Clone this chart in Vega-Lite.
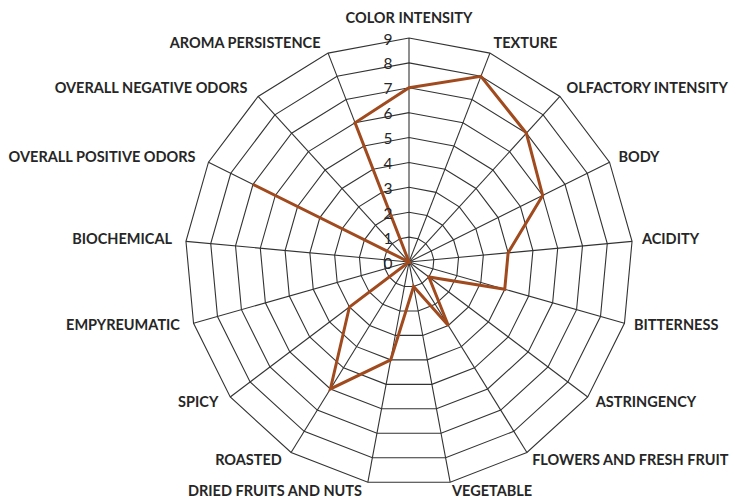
{
  "$schema": "https://vega.github.io/schema/vega-lite/v6.json",
  "autosize": "none",
  "width": 448,
  "height": 448,
  "padding": {"left": 185, "top": 38, "right": 99, "bottom": 13},
  "background": "white",
  "config": {"view": {"stroke": null}},
  "datasets": {
    "cats": [
      {"k": 0, "cat": "COLOR INTENSITY", "v": 7, "lv": [1,2,3,4,5,6,7,8,9]},
      {"k": 1, "cat": "TEXTURE", "v": 8, "lv": [1,2,3,4,5,6,7,8,9]},
      {"k": 2, "cat": "OLFACTORY INTENSITY", "v": 7, "lv": [1,2,3,4,5,6,7,8,9]},
      {"k": 3, "cat": "BODY", "v": 6, "lv": [1,2,3,4,5,6,7,8,9]},
      {"k": 4, "cat": "ACIDITY", "v": 4, "lv": [1,2,3,4,5,6,7,8,9]},
      {"k": 5, "cat": "BITTERNESS", "v": 4, "lv": [1,2,3,4,5,6,7,8,9]},
      {"k": 6, "cat": "ASTRINGENCY", "v": 1, "lv": [1,2,3,4,5,6,7,8,9]},
      {"k": 7, "cat": "FLOWERS AND FRESH FRUIT", "v": 3, "lv": [1,2,3,4,5,6,7,8,9]},
      {"k": 8, "cat": "VEGETABLE", "v": 1, "lv": [1,2,3,4,5,6,7,8,9]},
      {"k": 9, "cat": "DRIED FRUITS AND NUTS", "v": 4, "lv": [1,2,3,4,5,6,7,8,9]},
      {"k": 10, "cat": "ROASTED", "v": 6, "lv": [1,2,3,4,5,6,7,8,9]},
      {"k": 11, "cat": "SPICY", "v": 3, "lv": [1,2,3,4,5,6,7,8,9]},
      {"k": 12, "cat": "EMPYREUMATIC", "v": 0, "lv": [1,2,3,4,5,6,7,8,9]},
      {"k": 13, "cat": "BIOCHEMICAL", "v": 0, "lv": [1,2,3,4,5,6,7,8,9]},
      {"k": 14, "cat": "OVERALL POSITIVE ODORS", "v": 7, "lv": [1,2,3,4,5,6,7,8,9]},
      {"k": 15, "cat": "OVERALL NEGATIVE ODORS", "v": 0, "lv": [1,2,3,4,5,6,7,8,9]},
      {"k": 16, "cat": "AROMA PERSISTENCE", "v": 6, "lv": [1,2,3,4,5,6,7,8,9]}
    ],
    "ticks": [
      {"t": 0}, {"t": 1}, {"t": 2}, {"t": 3}, {"t": 4},
      {"t": 5}, {"t": 6}, {"t": 7}, {"t": 8}, {"t": 9}
    ]
  },
  "layer": [
    {
      "data": {"name": "cats"},
      "transform": [
        {"flatten": ["lv"]},
        {"calculate": "2*PI*datum.k/17", "as": "a"},
        {"calculate": "datum.lv*sin(datum.a)", "as": "gx"},
        {"calculate": "datum.lv*cos(datum.a)", "as": "gy"}
      ],
      "mark": {"type": "line", "interpolate": "linear-closed", "stroke": "#333333", "strokeWidth": 1.1},
      "encoding": {
        "x": {"field": "gx", "type": "quantitative", "scale": {"domain": [-9, 9], "nice": false, "zero": false}, "axis": null},
        "y": {"field": "gy", "type": "quantitative", "scale": {"domain": [-9, 9], "nice": false, "zero": false}, "axis": null},
        "detail": {"field": "lv", "type": "nominal"},
        "order": {"field": "k", "type": "quantitative"}
      }
    },
    {
      "data": {"name": "cats"},
      "transform": [
        {"calculate": "2*PI*datum.k/17", "as": "a"},
        {"calculate": "9*sin(datum.a)", "as": "sx"},
        {"calculate": "9*cos(datum.a)", "as": "sy"}
      ],
      "mark": {"type": "rule", "stroke": "#333333", "strokeWidth": 1.1},
      "encoding": {
        "x": {"field": "sx", "type": "quantitative", "scale": {"domain": [-9, 9], "nice": false, "zero": false}, "axis": null},
        "y": {"field": "sy", "type": "quantitative", "scale": {"domain": [-9, 9], "nice": false, "zero": false}, "axis": null},
        "x2": {"datum": 0},
        "y2": {"datum": 0}
      }
    },
    {
      "data": {"name": "cats"},
      "transform": [
        {"calculate": "2*PI*datum.k/17", "as": "a"},
        {"calculate": "datum.v*sin(datum.a)", "as": "px"},
        {"calculate": "datum.v*cos(datum.a)", "as": "py"}
      ],
      "mark": {"type": "line", "interpolate": "linear-closed", "stroke": "#a04a1e", "strokeWidth": 3, "strokeJoin": "miter"},
      "encoding": {
        "x": {"field": "px", "type": "quantitative", "scale": {"domain": [-9, 9], "nice": false, "zero": false}, "axis": null},
        "y": {"field": "py", "type": "quantitative", "scale": {"domain": [-9, 9], "nice": false, "zero": false}, "axis": null},
        "order": {"field": "k", "type": "quantitative"}
      }
    },
    {
      "data": {"name": "ticks"},
      "mark": {"type": "text", "align": "center", "baseline": "middle", "dx": -21, "dy": 1.5, "font": "Lato", "fontSize": 15.5, "fill": "#262626"},
      "encoding": {
        "x": {"datum": 0, "type": "quantitative", "scale": {"domain": [-9, 9], "nice": false, "zero": false}},
        "y": {"field": "t", "type": "quantitative", "scale": {"domain": [-9, 9], "nice": false, "zero": false}},
        "text": {"field": "t", "type": "quantitative"}
      }
    },
    {
      "data": {"name": "cats"},
      "transform": [
        {"filter": "datum.k >= 1 && datum.k <= 8"},
        {"calculate": "2*PI*datum.k/17", "as": "a"},
        {"calculate": "9.4*sin(datum.a)", "as": "lx"},
        {"calculate": "9.4*cos(datum.a)", "as": "ly"}
      ],
      "mark": {"type": "text", "align": "left", "baseline": "middle", "font": "Lato", "fontWeight": "bold", "fontSize": 14.5, "fill": "#262626"},
      "encoding": {
        "x": {"field": "lx", "type": "quantitative", "scale": {"domain": [-9, 9], "nice": false, "zero": false}},
        "y": {"field": "ly", "type": "quantitative", "scale": {"domain": [-9, 9], "nice": false, "zero": false}},
        "text": {"field": "cat", "type": "nominal"}
      }
    },
    {
      "data": {"name": "cats"},
      "transform": [
        {"filter": "datum.k >= 9"},
        {"calculate": "2*PI*datum.k/17", "as": "a"},
        {"calculate": "9.4*sin(datum.a)", "as": "lx"},
        {"calculate": "9.4*cos(datum.a)", "as": "ly"}
      ],
      "mark": {"type": "text", "align": "right", "baseline": "middle", "dx": -4, "font": "Lato", "fontWeight": "bold", "fontSize": 14.5, "fill": "#262626"},
      "encoding": {
        "x": {"field": "lx", "type": "quantitative", "scale": {"domain": [-9, 9], "nice": false, "zero": false}},
        "y": {"field": "ly", "type": "quantitative", "scale": {"domain": [-9, 9], "nice": false, "zero": false}},
        "text": {"field": "cat", "type": "nominal"}
      }
    },
    {
      "data": {"name": "cats"},
      "transform": [
        {"filter": "datum.k == 0"},
        {"calculate": "9.4", "as": "ly"}
      ],
      "mark": {"type": "text", "align": "center", "baseline": "middle", "dy": -9, "font": "Lato", "fontWeight": "bold", "fontSize": 14.5, "fill": "#262626"},
      "encoding": {
        "x": {"datum": 0, "type": "quantitative", "scale": {"domain": [-9, 9], "nice": false, "zero": false}},
        "y": {"field": "ly", "type": "quantitative", "scale": {"domain": [-9, 9], "nice": false, "zero": false}},
        "text": {"field": "cat", "type": "nominal"}
      }
    }
  ]
}
